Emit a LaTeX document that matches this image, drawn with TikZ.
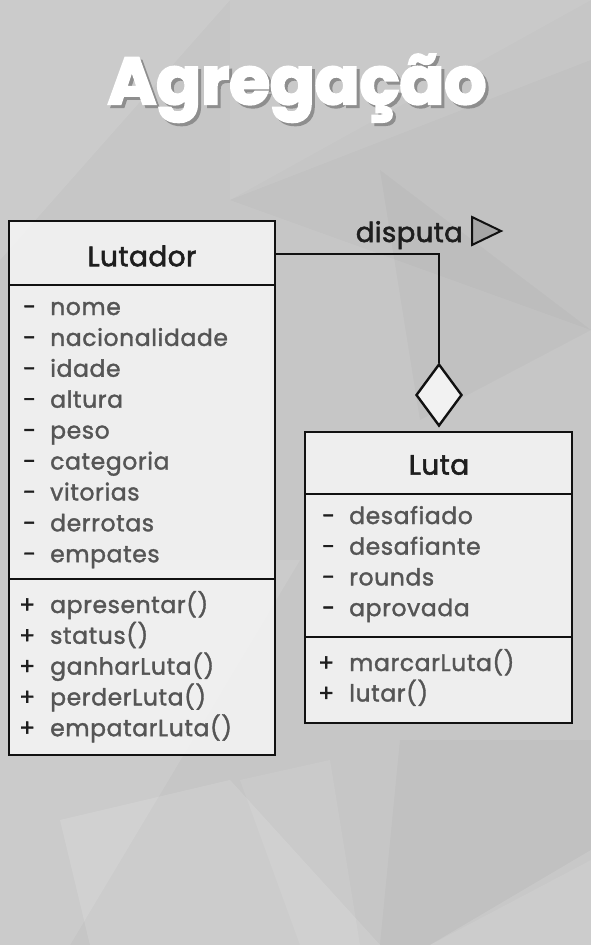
\documentclass[tikz,border=0pt]{standalone}
\usepackage{fontspec}
\setmainfont{Poppins}[FakeBold=3.5]
\newfontfamily\memfont{Poppins}[LetterSpace=2.5, FakeBold=1.5]
\newfontfamily\namefont{Poppins}[LetterSpace=1.5, FakeBold=2]
\usetikzlibrary{shapes.geometric}
\definecolor{bgbase}{HTML}{C6C6C6}
\definecolor{boxfill}{HTML}{F2F2F2}
\definecolor{attrcol}{HTML}{555555}
\definecolor{namecol}{HTML}{1E1E1E}
\definecolor{linecol}{HTML}{111111}
\definecolor{shadowcol}{HTML}{8E8E8E}
\tikzset{
  classbox/.style={draw=linecol, line width=2.4pt, fill=boxfill, fill opacity=0.93},
  sepline/.style={draw=linecol, line width=2.4pt},
  cname/.style={font=\namefont\fontsize{28}{28}\selectfont, text=namecol, anchor=center},
  member/.style={font=\memfont\fontsize{23.5}{23.5}\selectfont, text=attrcol, anchor=base west, inner sep=0pt},
  vis/.style={font=\memfont\fontsize{23.5}{23.5}\selectfont, text=namecol, anchor=base west, inner sep=0pt},
  conn/.style={draw=linecol, line width=2.4pt},
  poly/.style={draw=none}
}
\begin{document}
\begin{tikzpicture}[x=1pt,y=-1pt]
\useasboundingbox (0,0) rectangle (591,945);
% background
\fill[bgbase] (0,0) rectangle (591,945);
\fill[poly, fill=white, fill opacity=0.10] (0,0) -- (230,0) -- (0,260) -- cycle;
\fill[poly, fill=white, fill opacity=0.06] (230,0) -- (591,0) -- (230,200) -- cycle;
\fill[poly, fill=black, fill opacity=0.02] (230,200) -- (591,60) -- (591,330) -- cycle;
\fill[poly, fill=black, fill opacity=0.025] (380,170) -- (591,330) -- (420,420) -- cycle;
\fill[poly, fill=white, fill opacity=0.10] (0,560) -- (300,560) -- (70,945) -- (0,945) -- cycle;
\fill[poly, fill=white, fill opacity=0.12] (60,820) -- (230,780) -- (380,945) -- (90,945) -- cycle;
\fill[poly, fill=black, fill opacity=0.025] (400,740) -- (591,740) -- (591,860) -- (430,945) -- (380,945) -- cycle;
\fill[poly, fill=white, fill opacity=0.12] (591,850) -- (591,945) -- (430,945) -- cycle;
\fill[poly, fill=white, fill opacity=0.08] (240,780) -- (330,760) -- (360,945) -- (300,945) -- cycle;

% title with drop shadow
\node[font=\fontsize{66}{66}\selectfont\bfseries, text=white, anchor=base, inner sep=0pt] (title) at (297,104)
  {\makebox[0pt][l]{\hspace{3pt}\raisebox{-3pt}{\color{shadowcol}Agregação}}Agregação};

% Lutador class
\draw[classbox] (9,221) rectangle (275,755);
\coordinate (lutR) at (275,254);
\draw[sepline] (9,285) -- (275,285);
\draw[sepline] (9,579) -- (275,579);
\node[cname] (lutname) at (142,256) {Lutador};
\foreach \t [count=\i] in {nome,nacionalidade,idade,altura,peso,categoria,vitorias,derrotas,empates}{
  \node[vis] (lutav\i) at (23,{307+(\i-1)*30.9+8}) {-};
  \node[member] (luta\i) at (50,{307+(\i-1)*30.9+8}) {\t};
}
\foreach \t [count=\i] in {apresentar(),status(),ganharLuta(),perderLuta(),empatarLuta()}{
  \node[vis] (lutmv\i) at (19,{605+(\i-1)*30.8+8}) {+};
  \node[member] (lutm\i) at (50,{605+(\i-1)*30.8+8}) {\t};
}

% Luta class
\draw[classbox] (305,432) rectangle (572,723);
\draw[sepline] (305,494) -- (572,494);
\draw[sepline] (305,637) -- (572,637);
\node[cname] (lname) at (439,465) {Luta};
\foreach \t [count=\i] in {desafiado,desafiante,rounds,aprovada}{
  \node[vis] (lav\i) at (322,{516+(\i-1)*30.7+8}) {-};
  \node[member] (la\i) at (349,{516+(\i-1)*30.7+8}) {\t};
}
\foreach \t [count=\i] in {marcarLuta(),lutar()}{
  \node[vis] (lmv\i) at (318,{663+(\i-1)*30.5+8}) {+};
  \node[member] (lm\i) at (349,{663+(\i-1)*30.5+8}) {\t};
}

% aggregation diamond
\node[diamond, draw=linecol, line width=2.4pt, fill=boxfill, minimum width=46pt, minimum height=62pt, inner sep=0pt] (dia) at (439,395) {};
\draw[conn] (lutR) -- (439,254) -- (dia.north);

% label
\node[font=\namefont\fontsize{27.5}{27.5}\selectfont, text=namecol, anchor=base east, inner sep=0pt] (disp) at (463,242) {disputa};
\draw[draw=linecol, line width=2pt, fill=black!35, line join=miter] (472,217) -- (501,231) -- (472,245) -- cycle;
\end{tikzpicture}
\end{document}
